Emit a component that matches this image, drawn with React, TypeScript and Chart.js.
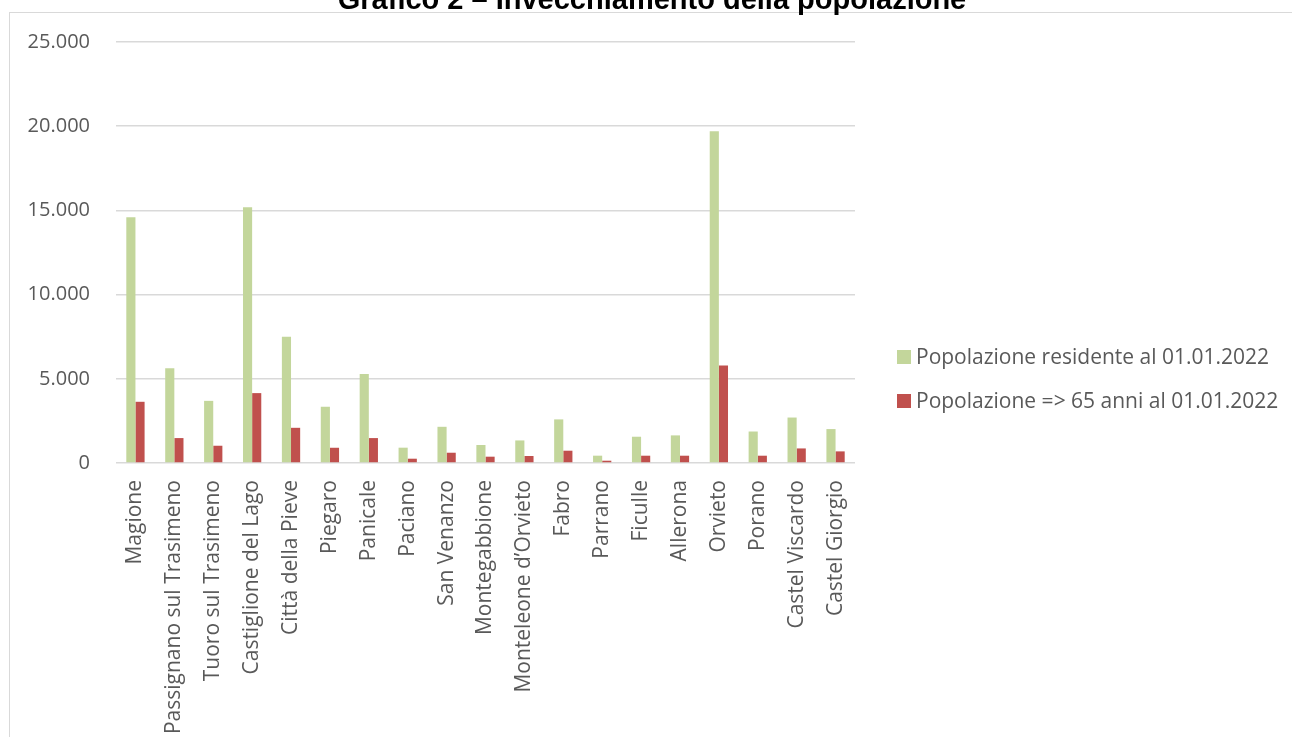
import React, { useEffect, useRef } from "react";
import { Chart, registerables } from "chart.js";

Chart.register(...registerables);

const titleText = "Grafico 2 – Invecchiamento della popolazione";

const categories = [
  "Magione",
  "Passignano sul Trasimeno",
  "Tuoro sul Trasimeno",
  "Castiglione del Lago",
  "Città della Pieve",
  "Piegaro",
  "Panicale",
  "Paciano",
  "San Venanzo",
  "Montegabbione",
  "Monteleone d’Orvieto",
  "Fabro",
  "Parrano",
  "Ficulle",
  "Allerona",
  "Orvieto",
  "Porano",
  "Castel Viscardo",
  "Castel Giorgio",
];

const residentLabel = "Popolazione residente al 01.01.2022";
const residentValues = [
  14600, 5630, 3690, 15190, 7490, 3340, 5290, 910, 2150, 1070, 1340, 2590, 435,
  1560, 1640, 19700, 1870, 2700, 2015,
];

const elderlyLabel = "Popolazione => 65 anni al 01.01.2022";
const elderlyValues = [
  3635, 1480, 1025, 4150, 2090, 905, 1480, 255, 610, 375, 415, 730, 136, 433,
  433, 5785, 433, 865, 690,
];

const yTicks = [0, 5000, 10000, 15000, 20000, 25000];

const GREEN = "#C3D69B";
const RED = "#C0504D";
const TEXT = "#595959";
const GRID = "#D9D9D9";
const FONT = "'Open Sans', sans-serif";

function fmt(v: number): string {
  const s = Math.round(v).toString();
  return s.replace(/\B(?=(\d{3})+(?!\d))/g, ".");
}

const legendPlugin = {
  id: "customLegend",
  afterDraw(chart: any) {
    const ctx = chart.ctx;
    ctx.save();
    ctx.font = `21px ${FONT}`;
    ctx.textBaseline = "alphabetic";
    ctx.textAlign = "left";
    chart.data.datasets.forEach((ds: any, i: number) => {
      const y = 350 + i * 44;
      ctx.fillStyle = ds.backgroundColor;
      ctx.fillRect(897, y, 14, 14);
      ctx.fillStyle = TEXT;
      ctx.fillText(ds.label, 916, y + 14);
    });
    ctx.restore();
  },
};

export default function App() {
  const canvasRef = useRef<HTMLCanvasElement | null>(null);

  useEffect(() => {
    if (!canvasRef.current) return;
    const chart = new Chart(canvasRef.current, {
      type: "bar",
      data: {
        labels: categories,
        datasets: [
          {
            label: residentLabel,
            data: residentValues,
            backgroundColor: GREEN,
            categoryPercentage: 0.47,
            barPercentage: 1,
          },
          {
            label: elderlyLabel,
            data: elderlyValues,
            backgroundColor: RED,
            categoryPercentage: 0.47,
            barPercentage: 1,
          },
        ],
      },
      options: {
        animation: false,
        responsive: false,
        maintainAspectRatio: false,
        layout: { padding: { left: 10, top: 42, right: 437, bottom: 0 } },
        plugins: {
          legend: { display: false },
          title: { display: false },
          tooltip: { enabled: false },
        },
        scales: {
          x: {
            grid: { display: false, drawTicks: false },
            border: { display: false },
            ticks: {
              color: TEXT,
              font: { family: FONT, size: 21 },
              minRotation: 90,
              maxRotation: 90,
              padding: 17,
              autoSkip: false,
            },
            afterFit: (scale: any) => {
              scale.height = 274;
            },
          },
          y: {
            min: 0,
            max: 25000,
            afterBuildTicks: (scale: any) => {
              scale.ticks = yTicks.map((v) => ({ value: v }));
            },
            grid: { color: GRID, lineWidth: 1.5, drawTicks: false },
            border: { display: false },
            ticks: {
              color: TEXT,
              font: { family: FONT, size: 20 },
              padding: 26,
              callback: (v: any) => fmt(Number(v)),
            },
            afterFit: (scale: any) => {
              scale.width = 106;
            },
          },
        },
      },
      plugins: [legendPlugin],
    });
    return () => chart.destroy();
  }, []);

  return (
    <div
      style={{
        position: "fixed",
        left: 0,
        top: 0,
        width: 1292,
        height: 737,
        overflow: "hidden",
        background: "#fff",
      }}
    >
      <div
        style={{
          position: "absolute",
          left: 9,
          top: 12,
          width: 1292 - 9,
          height: 737,
          borderTop: `1px solid ${GRID}`,
          borderLeft: `1px solid ${GRID}`,
          boxSizing: "border-box",
        }}
      />
      <canvas
        ref={canvasRef}
        width={1292}
        height={737}
        style={{ position: "absolute", left: 0, top: 0, width: 1292, height: 737 }}
      />
      <div
        style={{
          position: "absolute",
          left: 0,
          top: -15,
          width: 1304,
          textAlign: "center",
          fontFamily: "'Liberation Sans', Arial, sans-serif",
          fontWeight: "bold",
          fontSize: 29,
          lineHeight: "29px",
          color: "#000",
          whiteSpace: "nowrap",
        }}
      >
        {titleText}
      </div>
    </div>
  );
}
